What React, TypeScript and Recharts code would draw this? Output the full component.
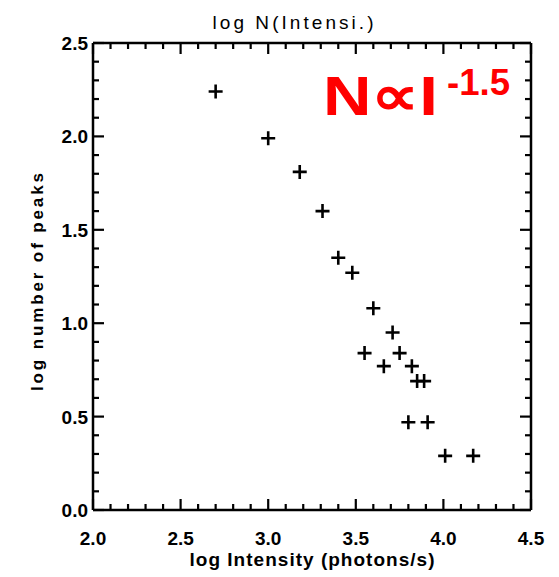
import React from 'react';
import { ScatterChart, Scatter, XAxis, YAxis } from 'recharts';

// log intensity (photons/s) vs log number of peaks
const logIntensity = [2.70, 3.00, 3.18, 3.31, 3.40, 3.48, 3.60, 3.71, 3.55, 3.75, 3.66, 3.82, 3.85, 3.89, 3.80, 3.91, 4.01, 4.17];
const logPeaks = [2.24, 1.99, 1.81, 1.60, 1.35, 1.27, 1.08, 0.95, 0.84, 0.84, 0.77, 0.77, 0.69, 0.69, 0.47, 0.47, 0.29, 0.29];

const xTicks = [2.0, 2.1, 2.2, 2.3, 2.4, 2.5, 2.6, 2.7, 2.8, 2.9, 3.0, 3.1, 3.2, 3.3, 3.4, 3.5, 3.6, 3.7, 3.8, 3.9, 4.0, 4.1, 4.2, 4.3, 4.4, 4.5];
const yTicks = [0.0, 0.1, 0.2, 0.3, 0.4, 0.5, 0.6, 0.7, 0.8, 0.9, 1.0, 1.1, 1.2, 1.3, 1.4, 1.5, 1.6, 1.7, 1.8, 1.9, 2.0, 2.1, 2.2, 2.3, 2.4, 2.5];

const data = logIntensity.map((x, i) => ({ x, y: logPeaks[i] }));

const FONT = '"Liberation Sans", Arial, sans-serif';
const isMajor = (v: number) => Math.abs(v * 2 - Math.round(v * 2)) < 1e-6;

// inward tick marks on all four sides (IDL style), placed through the chart scales
const xMin = xTicks[0];
const xMax = xTicks[xTicks.length - 1];
const yMin = yTicks[0];
const yMax = yTicks[yTicks.length - 1];
const tickMarks = [
    ...xTicks.map((v) => ({ x: v, y: yMin, side: 'b', major: isMajor(v) })),
    ...xTicks.map((v) => ({ x: v, y: yMax, side: 't', major: isMajor(v) })),
    ...yTicks.map((v) => ({ x: xMin, y: v, side: 'l', major: isMajor(v) })),
    ...yTicks.map((v) => ({ x: xMax, y: v, side: 'r', major: isMajor(v) })),
];

const TickMark = (props: any) => {
    const { cx, cy, payload } = props;
    const len = payload.major ? 11 : 6;
    let d = '';
    if (payload.side === 'b') d = `M${cx},${cy}V${cy - len}`;
    if (payload.side === 't') d = `M${cx},${cy}V${cy + len}`;
    if (payload.side === 'l') d = `M${cx},${cy}H${cx + len}`;
    if (payload.side === 'r') d = `M${cx},${cy}H${cx - len}`;
    return <path d={d} stroke="#000" strokeWidth={2.2} fill="none" />;
};

const BottomLabel = (props: any) => {
    const { x, y, payload } = props;
    if (!isMajor(payload.value)) return <g />;
    return (
        <text x={x} y={y + 35} textAnchor="middle" fontSize={19} fontWeight="bold" fontFamily={FONT} fill="#000">
            {payload.value.toFixed(1)}
        </text>
    );
};

const LeftLabel = (props: any) => {
    const { x, y, payload } = props;
    if (!isMajor(payload.value)) return <g />;
    return (
        <text x={x - 5} y={y + 7} textAnchor="end" fontSize={19} fontWeight="bold" fontFamily={FONT} fill="#000">
            {payload.value.toFixed(1)}
        </text>
    );
};

const Plus = (props: any) => {
    const { cx, cy } = props;
    return (
        <path d={`M${cx - 7},${cy}H${cx + 7}M${cx},${cy - 7}V${cy + 7}`} stroke="#000" strokeWidth={2.6} fill="none" />
    );
};

const axisLine = { stroke: '#000', strokeWidth: 2.5 };

export default function App() {
    return (
        <div style={{ position: 'absolute', left: 0, top: 0, background: '#fff' }}>
            <ScatterChart width={559} height={577} margin={{ top: 42, right: 27, bottom: 66, left: 92 }}>
                <XAxis xAxisId="b" dataKey="x" type="number" domain={[2, 4.5]} ticks={xTicks} interval={0}
                    height={1} tickSize={0} tickMargin={0} tick={BottomLabel} axisLine={axisLine} tickLine={false} />
                <XAxis xAxisId="t" orientation="top" type="number" domain={[2, 4.5]} ticks={xTicks} interval={0}
                    height={1} tickSize={0} tickMargin={0} tick={false} axisLine={axisLine} tickLine={false} />
                <YAxis yAxisId="l" dataKey="y" type="number" domain={[0, 2.5]} ticks={yTicks} interval={0}
                    width={1} tickSize={0} tickMargin={0} tick={LeftLabel} axisLine={axisLine} tickLine={false} />
                <YAxis yAxisId="r" orientation="right" type="number" domain={[0, 2.5]} ticks={yTicks} interval={0}
                    width={1} tickSize={0} tickMargin={0} tick={false} axisLine={axisLine} tickLine={false} />
                <Scatter xAxisId="b" yAxisId="l" data={tickMarks} shape={TickMark} isAnimationActive={false} />
                <Scatter xAxisId="b" yAxisId="l" data={data} shape={Plus} isAnimationActive={false} />
                <text x={293} y={29} textAnchor="middle" fontSize={19} fontFamily={FONT} fill="#000"
                    textLength={161} lengthAdjust="spacing">log  N(Intensi.)</text>
                <text x={312} y={566} textAnchor="middle" fontSize={19} fontWeight="bold" fontFamily={FONT} fill="#000"
                    textLength={245} lengthAdjust="spacing">log Intensity (photons/s)</text>
                <text x={43} y={282} transform="rotate(-90 43 282)" textAnchor="middle" fontSize={17} fontWeight="bold"
                    fontFamily={FONT} fill="#000" textLength={218} lengthAdjust="spacing">log number of peaks</text>
                <text x={323} y={115} fontSize={56} fontWeight="bold" fontFamily={FONT} fill="#ff0000"
                    textLength={115} lengthAdjust="spacingAndGlyphs">N∝I</text>
                <text x={447} y={95} fontSize={36} fontWeight="bold" fontFamily={FONT} fill="#ff0000"
                    textLength={63} lengthAdjust="spacingAndGlyphs">-1.5</text>
            </ScatterChart>
        </div>
    );
}
